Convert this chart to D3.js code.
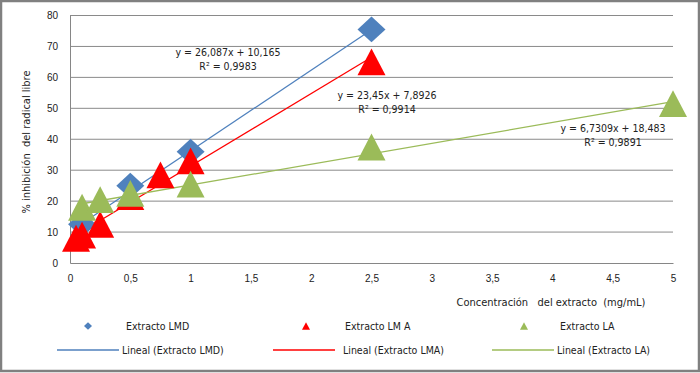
<!DOCTYPE html>
<html>
<head>
<meta charset="utf-8">
<script src="https://cdn.jsdelivr.net/npm/d3@7"></script>
<style>
  body { margin: 0; background: #fff; }
  text { font-family: "Liberation Sans Narrow", "Arial Narrow", "DejaVu Sans Condensed", sans-serif; fill: #222; white-space: pre; }
</style>
</head>
<body>
<script>
// concentracion (mg/mL) and % inhibicion for each extract
var lmdX = [0.1, 0.5, 1, 2.5];
var lmdY = [12.5, 25, 36, 75.5];
var lmaX = [0.05, 0.1, 0.25, 0.5, 0.75, 1, 2.5];
var lmaY = [8, 9, 12.5, 21.5, 28.5, 33, 65];
var laX = [0.1, 0.25, 0.5, 1, 2.5, 5];
var laY = [18, 20.5, 22.5, 25.5, 37.5, 51.5];

var seriesNames = ["Extracto LMD", "Extracto LMA", "Extracto LA"];
var legendNames = ["Extracto LMD", "Extracto LM A", "Extracto LA"];
var trendNames = ["Lineal (Extracto LMD)", "Lineal (Extracto LMA)", "Lineal (Extracto LA)"];
var slopes = [26.087, 23.45, 6.7309];
var intercepts = [10.165, 7.8926, 18.483];
var eqLabels = ["y = 26,087x + 10,165", "y = 23,45x + 7,8926", "y = 6,7309x + 18,483"];
var r2Labels = ["R² = 0,9983", "R² = 0,9914", "R² = 0,9891"];
var xTicks = [0, 0.5, 1, 1.5, 2, 2.5, 3, 3.5, 4, 4.5, 5];
var yTicks = [0, 10, 20, 30, 40, 50, 60, 70, 80];

var colors = ["#4f81bd", "#ff0000", "#9bbb59"];

// excel-like markers, centred on their bounding box
var diamond = {
  draw: function(ctx, size) {
    var w = Math.sqrt(size) / 2, h = w * 0.92;
    ctx.moveTo(0, -h); ctx.lineTo(w, 0); ctx.lineTo(0, h); ctx.lineTo(-w, 0); ctx.closePath();
  }
};
var triangle = {
  draw: function(ctx, size) {
    var s = Math.sqrt(size) / 2;
    ctx.moveTo(0, -s * 0.96); ctx.lineTo(s, s * 0.96); ctx.lineTo(-s, s * 0.96); ctx.closePath();
  }
};

var width = 700, height = 373;
var margin = {top: 15.5, right: 27, bottom: 110, left: 70};

var series = [
  {name: seriesNames[0], pts: d3.zip(lmdX, lmdY), shape: diamond},
  {name: seriesNames[1], pts: d3.zip(lmaX, lmaY), shape: triangle},
  {name: seriesNames[2], pts: d3.zip(laX, laY), shape: triangle}
];

var x = d3.scaleLinear().domain([0, 5]).range([margin.left, width - margin.right]);
var y = d3.scaleLinear().domain([0, 80]).range([height - margin.bottom, margin.top]);

var svg = d3.select("body").append("svg")
    .attr("width", width)
    .attr("height", height);

// frame
svg.append("rect")
    .attr("x", 1).attr("y", 1)
    .attr("width", width - 2).attr("height", height - 3)
    .attr("fill", "#fff")
    .attr("stroke", "#808080")
    .attr("stroke-width", 2.5);

// gridlines
svg.append("g")
    .selectAll("line")
    .data(yTicks.slice(1))
    .enter().append("line")
    .attr("x1", x(0)).attr("x2", x(5))
    .attr("y1", function(d) { return y(d); })
    .attr("y2", function(d) { return y(d); })
    .attr("stroke", "#8a8a8a")
    .attr("stroke-width", 1);

// axis-y
var yAxis = svg.append("g")
    .attr("transform", "translate(" + x(0) + ",0)")
    .call(d3.axisLeft(y).tickValues(yTicks).tickSize(0).tickPadding(12));
yAxis.select(".domain").attr("stroke", "#868686");
yAxis.selectAll("text").attr("font-size", "10px").style("font-family", "'Liberation Sans', sans-serif");

// axis-x
var xAxis = svg.append("g")
    .attr("transform", "translate(0," + y(0) + ")")
    .call(d3.axisBottom(x).tickValues(xTicks).tickSize(0).tickPadding(12)
      .tickFormat(function(d) { return String(d).replace(".", ","); }));
xAxis.select(".domain").attr("stroke", "#868686");
xAxis.selectAll("text").attr("font-size", "10px").style("font-family", "'Liberation Sans', sans-serif");

// axis titles
svg.append("text")
    .attr("transform", "translate(30," + 142 + ") rotate(-90)")
    .attr("text-anchor", "middle")
    .attr("font-size", "11px")
    .text("% inhibición  del radical libre");

svg.append("text")
    .attr("x", 551).attr("y", 306)
    .attr("text-anchor", "middle")
    .attr("font-size", "11px")
    .text("Concentración   del extracto  (mg/mL)");

// trend lines
series.forEach(function(s, i) {
  var xs = s.pts.map(function(p) { return p[0]; });
  var x0 = d3.min(xs), x1 = d3.max(xs);
  svg.append("line")
    .attr("x1", x(x0)).attr("y1", y(slopes[i] * x0 + intercepts[i]))
    .attr("x2", x(x1)).attr("y2", y(slopes[i] * x1 + intercepts[i]))
    .attr("stroke", colors[i])
    .attr("stroke-width", 1.3);
});

// markers
series.forEach(function(s, i) {
  var sym = d3.symbol().type(s.shape).size(i == 0 ? 784 : 784);
  svg.append("g")
    .selectAll("path")
    .data(s.pts)
    .enter().append("path")
    .attr("d", sym)
    .attr("transform", function(d) {
      return "translate(" + x(d[0]) + "," + y(d[1]) + ")";
    })
    .attr("fill", colors[i]);
});

// equation labels
var eqPos = [[228, 56], [387, 99], [613, 132]];
eqLabels.forEach(function(t, i) {
  var g = svg.append("g");
  g.append("text")
    .attr("x", eqPos[i][0]).attr("y", eqPos[i][1])
    .attr("text-anchor", "middle")
    .attr("font-size", "10.5px")
    .text(t);
  g.append("text")
    .attr("x", eqPos[i][0]).attr("y", eqPos[i][1] + 14)
    .attr("text-anchor", "middle")
    .attr("font-size", "10.5px")
    .text(r2Labels[i]);
});

// legend
var legMarkX = [88, 306, 524];
var legTextX = [126, 345, 560];
var legLineX = [57, 273, 492];
var legLineTextX = [122, 343, 557];
series.forEach(function(s, i) {
  svg.append("path")
    .attr("d", d3.symbol().type(s.shape).size(64))
    .attr("transform", "translate(" + legMarkX[i] + ",326)")
    .attr("fill", colors[i]);
  svg.append("text")
    .attr("x", legTextX[i]).attr("y", 330)
    .attr("font-size", "10.5px")
    .text(legendNames[i]);
  svg.append("line")
    .attr("x1", legLineX[i]).attr("x2", legLineX[i] + 62)
    .attr("y1", 350).attr("y2", 350)
    .attr("stroke", colors[i])
    .attr("stroke-width", 1.3);
  svg.append("text")
    .attr("x", legLineTextX[i]).attr("y", 354)
    .attr("font-size", "10.5px")
    .text(trendNames[i]);
});
</script>
</body>
</html>
